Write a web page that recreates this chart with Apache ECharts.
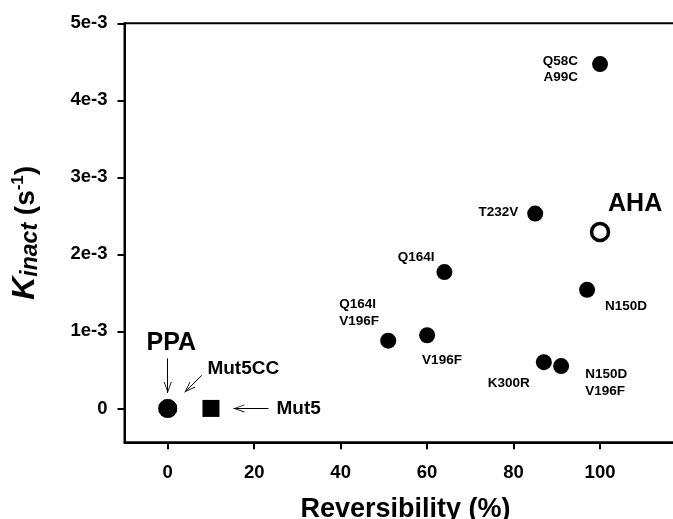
<!DOCTYPE html>
<html><head><meta charset="utf-8">
<script src="https://cdn.jsdelivr.net/npm/echarts@6/dist/echarts.min.js"></script>
<style>html,body{margin:0;padding:0;background:#fff}#c{width:673px;height:519px}</style>
</head><body><div id="c"></div>
<script>
// ---- data ----
const mutantNames = ['Q58C\nA99C', 'T232V', 'Q164I', 'Q164I\nV196F', 'V196F', 'N150D', 'K300R', 'N150D\nV196F'];
const mutantReversibility = [100, 85, 64, 51, 60, 97, 87, 91];
const mutantKinact = [0.00447, 0.00253, 0.00177, 0.00088, 0.00095, 0.00154, 0.00060, 0.00055];
const ahaPoint = [100, 0.00229];
const ppaPoint = [0, 0];
const mut5ccPoint = [0, 0];
const mut5Point = [10, 0];
const xTicks = [0, 20, 40, 60, 80, 100];
const yTicks = [0, 0.001, 0.002, 0.003, 0.004, 0.005];
const yTickLabels = ['0', '1e-3', '2e-3', '3e-3', '4e-3', '5e-3'];
// annotation arrows (data coordinates: start -> tip)
const arrowPPA = [[0, 0.00065], [0, 0.00020]];
const arrowMut5CC = [[7.9, 0.00043], [3.9, 0.00021]];
const arrowMut5 = [[23.3, 0], [15.2, 0]];
const annotationNames = ['PPA', 'Mut5CC', 'Mut5'];

// ---- layout / style (not data) ----
const FONT = 'Liberation Sans, Arial, sans-serif';
const labelAlign = ['right', 'right', 'right', 'left', 'left', 'left', 'right', 'left'];
const labelOffset = [[-22, 5], [-17, -1], [-10, -15], [-49, -28], [-5, 25], [18, 16], [-14, 21], [24, 16.5]];
const annAlign = ['center', 'left', 'left'];
const annOffset = [[3.5, -15], [5.5, -6.5], [8, 0]];
const annSize = [25, 19, 19];
const arrowHead = 'path://M0,-11L0.01,-11Z M0,0L4,11L3.1,11L0,2.2L-3.1,11L-4,11Z';

const chart = echarts.init(document.getElementById('c'), null, {renderer: 'canvas'});

const smallLabel = {
  show: true, position: 'inside', color: '#000', fontFamily: FONT,
  fontWeight: 'bold', fontSize: 13.5, lineHeight: 16.5, verticalAlign: 'middle'
};
const solid = {color: '#000', opacity: 1};

const option = {
  animation: false,
  backgroundColor: '#fff',
  textStyle: {fontFamily: FONT, color: '#000'},
  grid: {left: 124.5, right: -13.5, top: 23.3, bottom: 76.7, show: true, outerBoundsMode: 'none',
         borderColor: '#000', borderWidth: 2, containLabel: false},
  xAxis: {
    type: 'value', min: -10, max: 120,
    axisLine: {show: true, onZero: false, lineStyle: {color: '#000', width: 2}},
    axisTick: {show: true, customValues: xTicks, length: 7, lineStyle: {color: '#000', width: 2}},
    axisLabel: {customValues: xTicks, color: '#000', fontFamily: FONT, fontWeight: 'bold', fontSize: 18.5, margin: 21},
    splitLine: {show: false},
    name: 'Reversibility (%)', nameLocation: 'middle', nameGap: 54,
    nameTextStyle: {color: '#000', fontFamily: FONT, fontWeight: 'bold', fontSize: 27}
  },
  yAxis: {
    type: 'value', min: -0.00044, max: 0.005,
    axisLine: {show: true, onZero: false, lineStyle: {color: '#000', width: 2}},
    axisTick: {show: true, customValues: yTicks, length: 7, lineStyle: {color: '#000', width: 2}},
    axisLabel: {customValues: yTicks, color: '#000', fontFamily: FONT, fontWeight: 'bold', fontSize: 18.5, margin: 17,
                formatter: v => yTickLabels[Math.round(v * 1000)]},
    splitLine: {show: false},
    name: '{k|K}{sub|inact}{p| (s}{sup|-1}{p|)}',
    nameLocation: 'middle', nameRotate: 90, nameGap: 82,
    nameTextStyle: {
      color: '#000', fontFamily: FONT, fontWeight: 'bold',
      rich: {
        k: {fontSize: 32, fontStyle: 'italic', fontWeight: 'bold', fontFamily: FONT, color: '#000', verticalAlign: 'bottom', padding: [0, 0, 1.5, 0]},
        sub: {fontSize: 23, fontStyle: 'italic', fontWeight: 'bold', fontFamily: FONT, color: '#000', verticalAlign: 'bottom', padding: [0, 0, 0, 0]},
        p: {fontSize: 28, fontWeight: 'bold', fontFamily: FONT, color: '#000', verticalAlign: 'bottom', padding: [0, 0, 2, 0]},
        sup: {fontSize: 17, fontWeight: 'bold', fontFamily: FONT, color: '#000', verticalAlign: 'bottom', padding: [0, 0, 16, 0]}
      }
    }
  },
  series: [
    {
      name: 'mutants', type: 'scatter', symbol: 'circle', symbolSize: 16,
      itemStyle: solid,
      data: mutantReversibility.map((x, i) => ({
        value: [x, mutantKinact[i]],
        label: Object.assign({}, smallLabel, {align: labelAlign[i], offset: labelOffset[i], formatter: mutantNames[i]})
      }))
    },
    {
      name: 'AHA', type: 'scatter', symbol: 'circle', symbolSize: 17,
      itemStyle: {color: '#fff', borderColor: '#000', borderWidth: 3.5, opacity: 1},
      data: [{value: ahaPoint, label: {show: true, position: 'inside', formatter: 'AHA', color: '#000', fontFamily: FONT,
             fontWeight: 'bold', fontSize: 25, align: 'left', verticalAlign: 'middle', offset: [8, -28]}}]
    },
    {
      name: 'Mut5CC', type: 'scatter', symbol: 'path://M-4,-10L4,-10L10,-4L10,4L4,10L-4,10L-10,4L-10,-4Z', symbolSize: 18,
      itemStyle: solid, data: [mut5ccPoint]
    },
    {
      name: 'PPA', type: 'scatter', symbol: 'circle', symbolSize: 19,
      itemStyle: solid, data: [ppaPoint]
    },
    {
      name: 'Mut5', type: 'scatter', symbol: 'rect', symbolSize: 17,
      itemStyle: solid, data: [mut5Point]
    },
    {
      name: 'annotations', type: 'scatter', symbolSize: 0, silent: true,
      itemStyle: solid,
      data: [arrowPPA[0], arrowMut5CC[0], arrowMut5[0]].map((p, i) => ({
        value: p,
        label: {show: true, position: 'inside', formatter: annotationNames[i], color: '#000', fontFamily: FONT,
                fontWeight: 'bold', fontSize: annSize[i], align: annAlign[i], verticalAlign: 'middle', offset: annOffset[i]}
      })),
      markLine: {
        silent: true, animation: false,
        symbol: ['none', arrowHead], symbolSize: [8, 22],
        lineStyle: {color: '#000', width: 1, type: 'solid', opacity: 1},
        itemStyle: solid,
        label: {show: false},
        emphasis: {disabled: true},
        data: [arrowPPA, arrowMut5CC, arrowMut5].map(a => [{coord: a[0]}, {coord: a[1]}])
      }
    }
  ]
};
chart.setOption(option);
</script>
</body></html>
